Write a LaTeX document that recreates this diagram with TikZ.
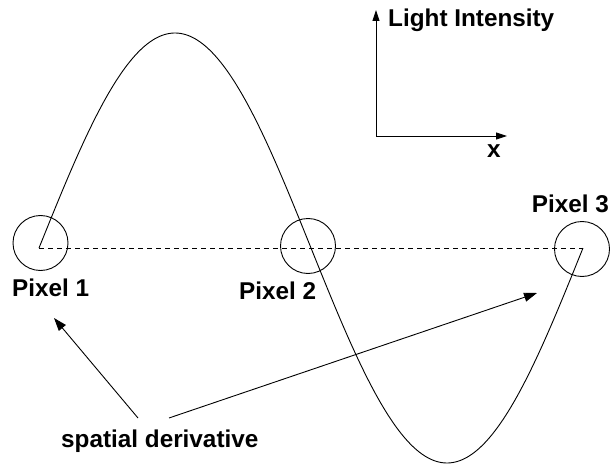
\documentclass[tikz,border=0pt]{standalone}
\usepackage{fontspec}
\setmainfont{Liberation Sans}
\usetikzlibrary{arrows.meta}
\tikzset{
  lbl/.style={font=\fontsize{24.3}{29}\selectfont\bfseries, inner sep=0pt, anchor=base west},
  pix/.style={circle, draw, line width=0.9pt, minimum size=55pt, inner sep=0pt},
  ln/.style={line width=0.9pt},
  arr/.style={ln, -{Triangle[length=13pt,width=9pt]}},
  axarr/.style={ln, -{Triangle[length=11pt,width=7pt]}},
  dashline/.style={ln, dash pattern=on 5pt off 4pt}
}
\begin{document}
\begin{tikzpicture}[x=1pt,y=1pt]
\useasboundingbox (0,0) rectangle (611,467);
% axes
\coordinate (o) at (376,331);
\coordinate (ytip) at (376,457);
\coordinate (xtip) at (507,331);
\draw[axarr] (o) -- (ytip);
\draw[axarr] (o) -- (xtip);
\node[lbl] (li) at (388,440) {Light Intensity};
\node[lbl] (xl) at (487,309) {x};
% baseline
\coordinate (s) at (39,219);
\coordinate (e) at (583,219);
\draw[dashline] (s) -- (e);
% wave
\draw[ln, domain=0:544, samples=240, smooth] plot ({39+\x}, {219+215*sin(\x/544*360)});
% pixels
\node[pix] (p1) at (40.5,224) {};
\node[pix] (p2) at (308,221) {};
\node[pix] (p3) at (582,218) {};
\node[lbl] (t1) at (12,171) {Pixel 1};
\node[lbl] (t2) at (239,168) {Pixel 2};
\node[lbl, anchor=base east] (t3) at (609,255) {Pixel 3};
% spatial derivative
\node[lbl] (sd) at (61,20) {spatial derivative};
\coordinate (a1) at (138,49);
\coordinate (b1) at (54,149);
\coordinate (a2) at (169,49);
\coordinate (b2) at (537,174);
\draw[arr] (a1) -- (b1);
\draw[arr] (a2) -- (b2);
\end{tikzpicture}
\end{document}
